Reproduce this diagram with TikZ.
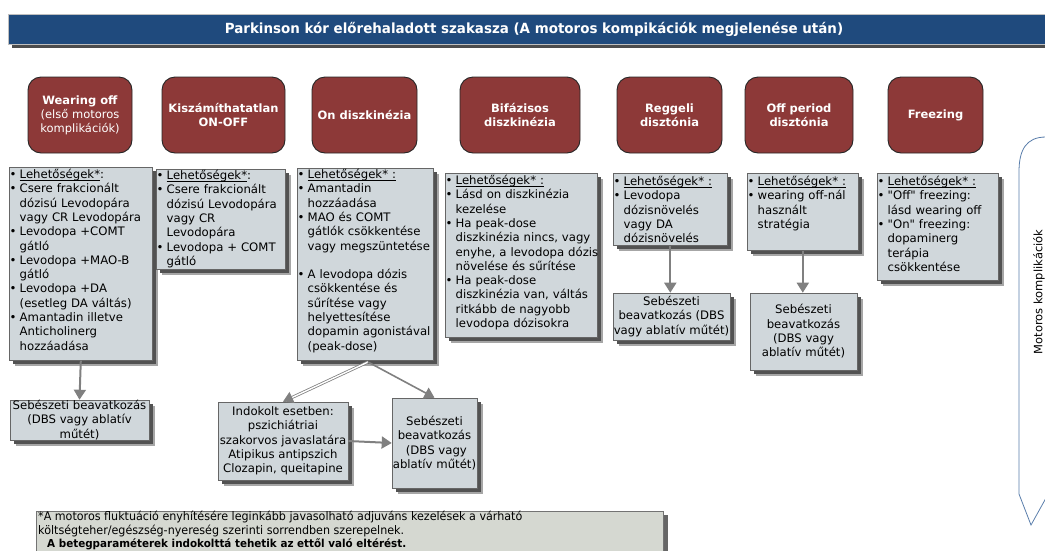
\documentclass[tikz,border=0pt]{standalone}
\usepackage{fontspec}
\setmainfont{DejaVu Sans}
\newfontfamily\titlefamily[FakeStretch=0.96]{DejaVu Sans}
\newfontfamily\notefamily[FakeStretch=0.943]{DejaVu Sans}
\usetikzlibrary{arrows.meta,shadows}

\definecolor{titleblue}{RGB}{31,74,125}
\definecolor{boxred}{RGB}{141,57,56}
\definecolor{optgray}{RGB}{208,215,219}
\definecolor{notegray}{RGB}{213,216,209}
\definecolor{arrowgray}{RGB}{128,128,128}
\definecolor{bracketblue}{RGB}{88,124,170}

\newcommand\optfont{\fontsize{11.7}{14.3}\selectfont}
\newcommand\redfont{\fontsize{11.5}{14}\selectfont}
% one bulleted entry; continuation lines (\newline) hang under the text
\newcommand\opt[1]{\noindent\hangindent=10pt\hangafter=1\makebox[10pt][l]{\textbullet}#1\par}
% thin underline set just below the baseline
\newsavebox\ulinebox
\newcommand\ulin[1]{\sbox\ulinebox{#1}\rlap{\rule[-1.8pt]{\wd\ulinebox}{0.6pt}}\usebox\ulinebox}
\newcommand\dq{\textquotedbl}

\tikzset{
  boxshadow/.style={
    drop shadow={shadow xshift=6pt,shadow yshift=-6pt,fill=black!35,opacity=1},
    drop shadow={shadow xshift=4pt,shadow yshift=-4pt,fill=black!68,opacity=1}},
  redbox/.style={draw=black!85, line width=0.9pt, fill=boxred, rounded corners=13pt,
    text=white, font=\redfont, align=center, inner sep=0pt},
  optbox/.style={draw=black!60, line width=0.6pt, fill=optgray, anchor=north west,
    inner sep=0pt, boxshadow},
  opttext/.style={anchor=base west, inner sep=0pt, text width=#1, font=\optfont},
  surgbox/.style={draw=black!60, line width=0.6pt, fill=optgray, inner sep=0pt,
    align=center, font=\optfont, boxshadow},
  arr/.style={draw=arrowgray, line width=2pt, -{Triangle[length=10pt,width=12pt]}},
  dblarr/.style={draw=arrowgray, line width=0.8pt, double=white, double distance=1.4pt,
    -{Triangle[length=10pt,width=12pt,fill=arrowgray]}},
}

\begin{document}
\begin{tikzpicture}[x=1pt,y=-1pt]
\useasboundingbox (0,0) rectangle (1045,550);
\clip (0,0) rectangle (1045,550);

% title bar
\fill[black!70] (12,18) rectangle (1050,48);
\node[draw=black!25, line width=0.8pt, fill=titleblue, anchor=north west, minimum width=1045pt,
  minimum height=30pt, inner sep=0pt] (titlebar) at (8,14) {};
\node[text=white, font=\titlefamily\bfseries\fontsize{14}{16}\selectfont] (title) at (534,29)
  {Parkinson kór előrehaladott szakasza (A motoros kompikációk megjelenése után)};

% complication headers
\node[redbox, minimum width=104pt, minimum height=76pt] (r1) at (80,115)
  {\textbf{Wearing off}\\(első motoros\\komplikációk)};
\node[redbox, minimum width=123pt, minimum height=76pt] (r2) at (223.5,115)
  {\textbf{Kiszámíthatatlan}\\\textbf{ON-OFF}};
\node[redbox, minimum width=105pt, minimum height=76pt] (r3) at (364.5,115)
  {\textbf{On diszkinézia}};
\node[redbox, minimum width=120pt, minimum height=76pt] (r4) at (520,115)
  {\textbf{Bifázisos}\\\textbf{diszkinézia}};
\node[redbox, minimum width=105pt, minimum height=76pt] (r5) at (669.5,115)
  {\textbf{Reggeli}\\\textbf{disztónia}};
\node[redbox, minimum width=108pt, minimum height=76pt] (r6) at (799,115)
  {\textbf{Off period}\\\textbf{disztónia}};
\node[redbox, minimum width=95pt, minimum height=76pt] (r7) at (935.5,115)
  {\textbf{Freezing}};

% option boxes
\node[optbox, minimum width=143pt, minimum height=193pt] (oA) at (9,167) {};
\node[opttext=160pt] (tA) at (9.5,178.5) {\optfont\opt{\ulin{Lehetőségek*}:}
  \opt{Csere frakcionált\newline dózisú Levodopára\newline vagy CR Levodopára}
  \opt{Levodopa +COMT\newline gátló}
  \opt{Levodopa +MAO-B\newline gátló}
  \opt{Levodopa +DA\newline (esetleg DA váltás)}
  \opt{Amantadin illetve\newline Anticholinerg\newline hozzáadása}};

\node[optbox, minimum width=129pt, minimum height=100pt] (oB) at (156,169) {};
\node[opttext=150pt] (tB) at (156.5,179.5) {\optfont\opt{\ulin{Lehetőségek*}:}
  \opt{Csere frakcionált\newline dózisú Levodopára\newline vagy CR\newline Levodopára}
  \opt{Levodopa + COMT\newline gátló}};

\node[optbox, minimum width=136pt, minimum height=192pt] (oC) at (297,168) {};
\node[opttext=160pt] (tC) at (297.5,178.5) {\optfont\opt{\ulin{Lehetőségek* :}}
  \opt{Amantadin\newline hozzáadása}
  \opt{MAO és COMT\newline gátlók csökkentése\newline vagy megszüntetése}
  \vspace{14.3pt}
  \opt{A levodopa dózis\newline csökkentése és\newline sűrítése vagy\newline helyettesítése\newline dopamin agonistával\newline (peak-dose)}};

\node[optbox, minimum width=152pt, minimum height=164pt] (oD) at (445,173) {};
\node[opttext=170pt] (tD) at (445.5,184.5) {\optfont\opt{\ulin{Lehetőségek* :}}
  \opt{Lásd on diszkinézia\newline kezelése}
  \opt{Ha peak-dose\newline diszkinézia nincs, vagy\newline enyhe, a levodopa dózis\newline növelése és sűrítése}
  \opt{Ha peak-dose\newline diszkinézia van, váltás\newline ritkább de nagyobb\newline levodopa dózisokra}};

\node[optbox, minimum width=114pt, minimum height=72pt] (oE) at (613,173) {};
\node[opttext=130pt] (tE) at (613.5,185.5) {\optfont\opt{\ulin{Lehetőségek* :}}
  \opt{Levodopa\newline dózisnövelés\newline vagy DA\newline dózisnövelés}};

\node[optbox, minimum width=111pt, minimum height=77pt] (oF) at (747,173) {};
\node[opttext=130pt] (tF) at (747.5,185.5) {\optfont\opt{\ulin{Lehetőségek* :}}
  \opt{wearing off-nál\newline használt\newline stratégia}};

\node[optbox, minimum width=121pt, minimum height=107pt] (oG) at (877,173) {};
\node[opttext=140pt] (tG) at (877.5,185.5) {\optfont\opt{\ulin{Lehetőségek* :}}
  \opt{\dq Off\dq\ freezing:\newline lásd wearing off}
  \opt{\dq On\dq\ freezing:\newline dopaminerg\newline terápia\newline csökkentése}};

% follow-up treatments
\node[surgbox, minimum width=139pt, minimum height=40pt] (s1) at (79.5,420)
  {Sebészeti beavatkozás\\(DBS vagy ablatív\\műtét)};
\node[surgbox, minimum width=117pt, minimum height=47pt] (s2) at (671.5,316.5)
  {Sebészeti\\beavatkozás (DBS\\vagy ablatív műtét)};
\node[surgbox, minimum width=107pt, minimum height=77pt] (s3) at (803.5,331.5)
  {Sebészeti\\beavatkozás\\(DBS vagy\\ablatív műtét)};
\node[surgbox, minimum width=130pt, minimum height=78pt] (ind) at (283,441)
  {Indokolt esetben:\\pszichiátriai\\szakorvos javaslatára\\Atipikus antipszich\\Clozapin, queitapine};
\node[surgbox, minimum width=85pt, minimum height=90pt] (s4) at (434.5,443)
  {Sebészeti\\beavatkozás\\\ (DBS vagy\\ablatív műtét)};

% connectors
\draw[arr] (oA.south) -- (s1.north);
\draw[arr] (oE.south) -- (oE.south |- s2.north);
\draw[arr] (oF.south) -- (oF.south |- s3.north);
\coordinate (cfork) at (368,362);
\draw[dblarr] (cfork) -- (ind.north);
\draw[arr, line width=1.6pt] (cfork) -- (s4.north);
\draw[arr] (ind.east) -- (s4.west);

% side bracket
\draw[bracketblue, line width=0.8pt] (1046,137) .. controls (1026,137) and (1019,150) .. (1019,172)
  -- (1019,494) -- (1031,525) -- (1046,498);
\node[rotate=90, font=\fontsize{11.5}{14}\selectfont] (side) at (1039,292) {Motoros komplikációk};

% footnote
\fill[black!60] (663,515) rectangle (668,560);
\node[draw=black!55, line width=0.6pt, fill=notegray, anchor=north west, minimum width=627pt,
  minimum height=50pt, inner sep=0pt] (notebox) at (36,511) {};
\node[anchor=north west, inner sep=0pt, align=left, font=\notefamily\fontsize{11.8}{13.5}\selectfont]
  (note) at (38,511) {*A motoros fluktuáció enyhítésére leginkább javasolható adjuváns kezelések a várható\\
  költségteher/egészség-nyereség szerinti sorrendben szerepelnek.\\
  \hspace*{9pt}{\fontsize{11}{13.5}\selectfont\bfseries A betegparaméterek indokolttá tehetik az ettől való eltérést.}};
\end{tikzpicture}
\end{document}
